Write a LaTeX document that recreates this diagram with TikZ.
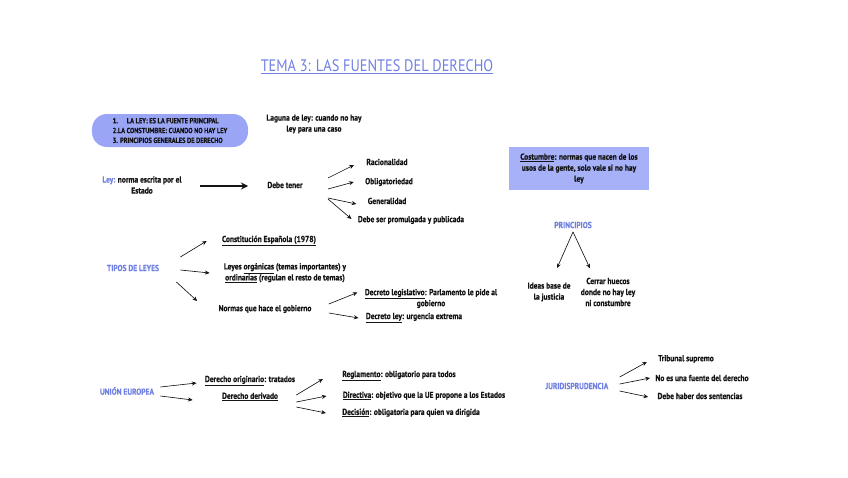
\documentclass[tikz,border=0pt]{standalone}
\usepackage{fontspec}
\setmainfont{PT Sans}[FakeStretch=0.86,BoldFeatures={FakeBold=0.6}]
\usepackage{tikz}
\usetikzlibrary{arrows.meta,positioning}
\definecolor{temaBlue}{RGB}{112,128,226}
\definecolor{boxFill}{RGB}{154,166,245}
\definecolor{costFill}{RGB}{166,177,247}
\definecolor{txtDark}{RGB}{20,20,20}
\tikzset{
  txt/.style={text=txtDark, align=center, inner sep=1pt},
  head/.style={text=temaBlue, inner sep=1pt},
  arr/.style={-{Stealth[length=4pt,width=3.5pt]}, line width=0.55pt, txtDark},
}

\begin{document}
\begin{tikzpicture}[x=0.03cm,y=-0.03cm,font=\fontsize{7.4}{9.4}\selectfont\bfseries]
\useasboundingbox (0,0) rectangle (848,477);
\node[head, font=\fontsize{14.2}{17}\selectfont] (tema) at (377,67) {\underline{TEMA 3: LAS FUENTES DEL DERECHO}};

% fuentes
\node[fill=boxFill, rounded corners=0.45cm, minimum width=4.68cm, minimum height=0.99cm, align=left,
  font=\fontsize{6.3}{8.4}\selectfont\bfseries, text=txtDark] (fuentes) at (170,130.5)
  {1.\quad\ LA LEY: ES LA FUENTE PRINCIPAL\\2.LA CONSTUMBRE: CUANDO NO HAY LEY\\3. PRINCIPIOS GENERALES DE DERECHO};
\node[txt] (laguna) at (314,124) {Laguna de ley: cuando no hay\\ley para una caso};

% la ley
\node[txt] (ley) at (142,185) {{\color{temaBlue}Ley:} norma escrita por el\\Estado};
\node[txt] (debe) at (285,185) {Debe tener};
\node[txt] (racio) at (387,162) {Racionalidad};
\node[txt] (oblig) at (389,182) {Obligatoriedad};
\node[txt] (gener) at (387,201) {Generalidad};
\node[txt] (promul) at (411,220) {Debe ser promulgada y publicada};
\draw[-{Stealth[length=6pt,width=6pt]}, line width=1.1pt, txtDark] ([shift={(58,1)}]ley.center) -- ([shift={(-18,1)}]debe.west);
\draw[arr] ([shift={(24,-7)}]debe.east) -- ([shift={(-11,3)}]racio.west);
\draw[arr] ([shift={(24,4)}]debe.east) -- ([shift={(-10,0)}]oblig.west);
\draw[arr] ([shift={(24,13)}]debe.east) -- ([shift={(-10,3)}]gener.west);
\draw[arr] ([shift={(24,14)}]debe.east) -- ([shift={(-5,-1)}]promul.west);

% costumbre
\node[fill=costFill, minimum width=4.2cm, minimum height=1.29cm, align=center, text=txtDark] (costum) at (579,168.5)
  {\underline{Costumbre}: normas que nacen de los\\usos de la gente, solo vale si no hay\\ley};

% principios
\node[head] (princ) at (573,225) {PRINCIPIOS};
\node[txt] (ideas) at (549,292) {Ideas base de\\la justicia};
\node[txt] (huecos) at (608,292) {Cerrar huecos\\donde no hay ley\\ni constumbre};
\draw[arr] ([yshift=-2]princ.south) -- ([shift={(8,-13)}]ideas.north);
\draw[arr] ([yshift=-2]princ.south) -- ([shift={(-18,-8)}]huecos.north);

% tipos de leyes
\node[head] (tipos) at (133,268) {TIPOS DE LEYES};
\node[txt] (consti) at (269,241) {\underline{Constitución Española (1978)}};
\node[txt] (organ) at (285,273) {Leyes \underline{orgánicas} (temas importantes) y\\\underline{ordinarias} (regulan el resto de temas)};
\node[txt] (normas) at (265,309) {Normas que hace el gobierno};
\node[txt] (legisl) at (431,298.5) {\underline{Decreto legislativo}: Parlamento le pide al\\gobierno};
\node[txt] (dley) at (414,318) {\underline{Decreto ley}: urgencia extrema};
\draw[arr] ([shift={(20,-11)}]tipos.east) -- ([shift={(-14,0)}]consti.west);
\draw[arr] ([shift={(20,2)}]tipos.east) -- ([shift={(-13,0)}]organ.west);
\draw[arr] ([shift={(16,14)}]tipos.east) -- ([shift={(-20,-8)}]normas.west);
\draw[arr] ([shift={(16,-5)}]normas.east) -- ([shift={(-6,-6)}]legisl.west);
\draw[arr] ([shift={(16,4)}]normas.east) -- ([shift={(-6,0)}]dley.west);

% union europea
\node[head] (ue) at (127,391) {UNIÓN EUROPEA};
\node[txt] (orig) at (250,381) {\underline{Derecho originario}: tratados};
\node[txt] (deriv) at (250,397) {\underline{Derecho derivado}};
\node[txt] (regla) at (399,376) {\underline{Reglamento}: obligatorio para todos};
\node[txt] (direc) at (424,396) {\underline{Directiva}: objetivo que la UE propone a los Estados};
\node[txt] (decis) at (411,413) {\underline{Decisión}: obligatoria para quien va dirigida};
\draw[arr] ([shift={(5,-4)}]ue.east) -- ([shift={(-7,2)}]orig.west);
\draw[arr] ([shift={(5,5)}]ue.east) -- ([shift={(-28,3)}]deriv.west);
\draw[arr] ([shift={(17,-2)}]deriv.east) -- ([shift={(-18,3)}]regla.west);
\draw[arr] ([shift={(17,5)}]deriv.east) -- ([shift={(-15,0)}]direc.west);
\draw[arr] ([shift={(17,10)}]deriv.east) -- ([shift={(-15,0)}]decis.west);

% jurisprudencia
\node[head] (juris) at (577,386) {JURIDISPRUDENCIA};
\node[txt] (tribu) at (686,359) {Tribunal supremo};
\node[txt] (nofue) at (702,378) {No es una fuente del derecho};
\node[txt] (sente) at (700,396) {Debe haber dos sentencias};
\draw[arr] ([shift={(10,-9)}]juris.east) -- ([shift={(-10,3)}]tribu.west);
\draw[arr] ([shift={(10,-2)}]juris.east) -- ([shift={(-4,0)}]nofue.west);
\draw[arr] ([shift={(10,5)}]juris.east) -- ([shift={(-8,1)}]sente.west);
\end{tikzpicture}
\end{document}
